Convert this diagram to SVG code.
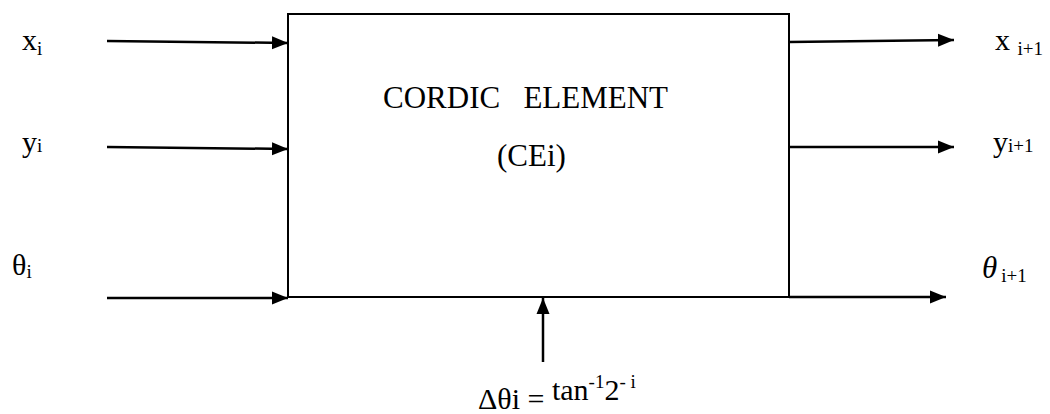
<svg xmlns="http://www.w3.org/2000/svg" width="1050" height="414" viewBox="0 0 1050 414">
<style>
text{font-family:'Liberation Serif','DejaVu Serif',serif;fill:#000}
.c line{stroke:#000;stroke-width:2.5;marker-end:url(#ah)}
.box{fill:#fff;stroke:#000;stroke-width:2}
</style>
<defs>
<marker id="ah" markerUnits="userSpaceOnUse" markerWidth="18" markerHeight="14" refX="16" refY="7" orient="auto">
<path d="M0,0.5 L16,7 L0,13.5 Z" fill="#000"/>
</marker>
</defs>
<rect width="1050" height="414" fill="#fff"/>
<g id="cordic">
<rect class="box" x="288" y="14" width="501" height="283"/>
<text font-family="Liberation Serif, serif" x="383" y="108" font-size="31" xml:space="preserve">CORDIC   ELEMENT</text>
<text font-family="Liberation Serif, serif" x="497" y="166" font-size="31">(CEi)</text>
</g>
<g id="in-x"><text font-family="Liberation Serif, serif" x="22" y="50" font-size="30">x<tspan font-size="19" dy="5">i</tspan></text></g>
<g id="in-y"><text font-family="Liberation Serif, serif" x="22" y="152" font-size="30">y<tspan font-size="19">i</tspan></text></g>
<g id="in-theta"><text font-family="Liberation Serif, serif" x="12" y="275" font-size="30">θ<tspan font-size="19" dy="3">i</tspan></text></g>
<g id="out-x"><text font-family="Liberation Serif, serif" x="995" y="50" font-size="30">x <tspan font-size="19" dy="5">i+1</tspan></text></g>
<g id="out-y"><text font-family="Liberation Serif, serif" x="993" y="152" font-size="30">y<tspan font-size="19">i+1</tspan></text></g>
<g id="out-theta"><text font-family="Liberation Serif, serif" x="982" y="278" font-size="31" font-style="italic">θ<tspan font-size="19" font-style="normal" dx="4" dy="4">i+1</tspan></text></g>
<g id="delta"><text font-family="Liberation Serif, serif" x="478" y="409" font-size="30">Δθi = <tspan dy="-9">tan</tspan><tspan font-size="19" dy="-12">-1</tspan><tspan dy="12">2</tspan><tspan font-size="19" dy="-12">- i</tspan></text></g>
<g class="c" id="connectors">
<line x1="107" y1="41" x2="288" y2="43"/>
<line x1="107" y1="147" x2="288" y2="149"/>
<line x1="107" y1="298" x2="288" y2="298"/>
<line x1="789" y1="42" x2="954" y2="40"/>
<line x1="789" y1="147" x2="954" y2="147"/>
<line x1="789" y1="297" x2="946" y2="297"/>
<line x1="543" y1="362" x2="543" y2="298"/>
</g>
</svg>
